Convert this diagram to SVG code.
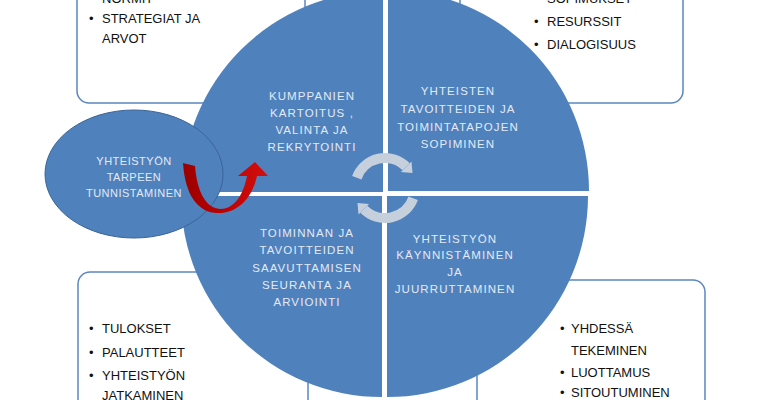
<svg xmlns="http://www.w3.org/2000/svg" width="760" height="400" viewBox="0 0 760 400">
<defs>
<style>
.box{fill:#ffffff;stroke:#5b87c0;stroke-width:1.5}
.btxt{font-family:"Liberation Sans",Arial,sans-serif;font-size:13px;fill:#111111}
.q{fill:#4f81bd}
.qt{font-family:"Liberation Sans",Arial,sans-serif;font-size:11.5px;letter-spacing:1.1px;fill:#e3eaf4;text-anchor:middle}
.et{font-family:"Liberation Sans",Arial,sans-serif;font-size:11px;letter-spacing:0.5px;fill:#e3eaf4;text-anchor:middle}
.garc{fill:none;stroke:#c6cfdc;stroke-width:10}
.ghead{fill:#c6cfdc}
</style>
<linearGradient id="red" x1="0" y1="0" x2="1" y2="0">
<stop offset="0" stop-color="#9a0000"/>
<stop offset="0.5" stop-color="#c00000"/>
<stop offset="1" stop-color="#d21010"/>
</linearGradient>
</defs>
<rect width="760" height="400" fill="#ffffff"/>

<g id="box-top-left">
<rect class="box" x="77" y="-40" width="228" height="143" rx="12"/>
<text class="btxt" x="89" y="3">•</text><text class="btxt" x="102" y="3">NORMIT</text>
<text class="btxt" x="89" y="23">•</text><text class="btxt" x="102" y="23">STRATEGIAT  JA</text>
<text class="btxt" x="102" y="43">ARVOT</text>
</g>

<g id="box-top-right">
<rect class="box" x="460" y="-40" width="223" height="143" rx="12"/>
<text class="btxt" x="534" y="3">•</text><text class="btxt" x="547" y="3">SOPIMUKSET</text>
<text class="btxt" x="534" y="26">•</text><text class="btxt" x="547" y="26">RESURSSIT</text>
<text class="btxt" x="534" y="49">•</text><text class="btxt" x="547" y="49">DIALOGISUUS</text>
</g>

<g id="box-bottom-left">
<rect class="box" x="78" y="272" width="230" height="170" rx="12"/>
<text class="btxt" x="89" y="333">•</text><text class="btxt" x="102" y="333">TULOKSET</text>
<text class="btxt" x="89" y="357">•</text><text class="btxt" x="102" y="357">PALAUTTEET</text>
<text class="btxt" x="89" y="380">•</text><text class="btxt" x="102" y="380">YHTEISTYÖN</text>
<text class="btxt" x="102" y="400">JATKAMINEN</text>
</g>

<g id="box-bottom-right">
<rect class="box" x="477" y="280" width="228" height="170" rx="12"/>
<text class="btxt" x="560" y="333">•</text><text class="btxt" x="571" y="333">YHDESSÄ</text>
<text class="btxt" x="571" y="355">TEKEMINEN</text>
<text class="btxt" x="560" y="377">•</text><text class="btxt" x="571" y="377">LUOTTAMUS</text>
<text class="btxt" x="560" y="397">•</text><text class="btxt" x="571" y="397">SITOUTUMINEN</text>
</g>

<g id="q-top-left">
<path class="q" d="M383,192 L182,192 A201,201 0 0 1 383,-9 Z"/>
<text class="qt" x="312" y="100">KUMPPANIEN</text>
<text class="qt" x="312" y="117">KARTOITUS ,</text>
<text class="qt" x="312" y="134">VALINTA JA</text>
<text class="qt" x="312" y="151">REKRYTOINTI</text>
</g>

<g id="q-top-right">
<path class="q" d="M388,191 L388,-10 A201,201 0 0 1 589,191 Z"/>
<text class="qt" x="458" y="95">YHTEISTEN</text>
<text class="qt" x="458" y="113">TAVOITTEIDEN JA</text>
<text class="qt" x="458" y="131">TOIMINTATAPOJEN</text>
<text class="qt" x="458" y="148">SOPIMINEN</text>
</g>

<g id="q-bottom-right">
<path class="q" d="M387,196 L588,196 A201,201 0 0 1 387,397 Z"/>
<text class="qt" x="455" y="243">YHTEISTYÖN</text>
<text class="qt" x="455" y="259">KÄYNNISTÄMINEN</text>
<text class="qt" x="455" y="276">JA</text>
<text class="qt" x="455" y="293">JUURRUTTAMINEN</text>
</g>

<g id="q-bottom-left">
<path class="q" d="M382,196 L382,397 A201,201 0 0 1 181,196 Z"/>
<text class="qt" x="307" y="237">TOIMINNAN JA</text>
<text class="qt" x="307" y="254">TAVOITTEIDEN</text>
<text class="qt" x="307" y="272">SAAVUTTAMISEN</text>
<text class="qt" x="307" y="289">SEURANTA JA</text>
<text class="qt" x="307" y="306">ARVIOINTI</text>
</g>

<g id="need-ellipse">
<ellipse cx="134" cy="174" rx="89" ry="64" fill="#4f81bd" stroke="#3b6497" stroke-width="1"/>
<text class="et" x="134" y="165">YHTEISTYÖN</text>
<text class="et" x="134" y="181">TARPEEN</text>
<text class="et" x="134" y="197">TUNNISTAMINEN</text>
</g>

<g id="connectors">
<path d="M183,163 L195,166 C197,190 205,208 220,209 C234,209 243,196 247,176 L238,176 L255,162 L268,176 L257,176 C252,198 238,213 218,213 C198,213 185,195 183,163 Z" fill="url(#red)"/>
<path class="garc" d="M356.8,177.7 A30,30 0 0 1 406.2,166.8"/>
<polygon class="ghead" points="411.5,161.5 400.9,172.1 412.5,173.1"/>
<path class="garc" d="M413.2,198.3 A30,30 0 0 1 363.8,209.2"/>
<polygon class="ghead" points="358.5,214.5 369.1,203.9 357.5,202.9"/>
</g>
</svg>
